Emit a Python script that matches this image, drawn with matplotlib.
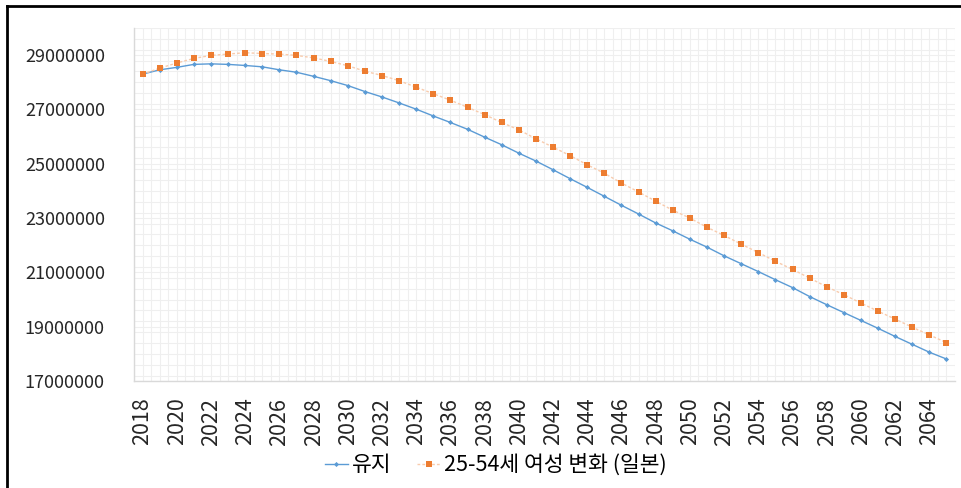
import numpy as np
import matplotlib
matplotlib.use("Agg")
import matplotlib.pyplot as plt
from matplotlib.lines import Line2D
from matplotlib.ticker import MultipleLocator, StrMethodFormatter

plt.rcParams['font.family'] = ['Noto Sans CJK KR', 'DejaVu Sans']

years = list(range(2018, 2066))

# 유지 (millions)
keep = [28.30, 28.46, 28.55, 28.66, 28.68, 28.66, 28.62, 28.57, 28.46, 28.37,
        28.22, 28.06, 27.88, 27.66, 27.46, 27.24, 27.01, 26.76, 26.52, 26.27,
        25.98, 25.70, 25.39, 25.10, 24.78, 24.45, 24.13, 23.80, 23.47, 23.15,
        22.82, 22.53, 22.22, 21.93, 21.61, 21.32, 21.03, 20.73, 20.44, 20.11,
        19.81, 19.52, 19.23, 18.94, 18.64, 18.35, 18.06, 17.81]

# 25-54세 여성 변화 (일본) (millions)
japan = [28.30, 28.52, 28.71, 28.88, 28.99, 29.04, 29.09, 29.06, 29.04, 28.99,
         28.90, 28.77, 28.61, 28.41, 28.25, 28.06, 27.82, 27.58, 27.34, 27.08,
         26.81, 26.52, 26.25, 25.92, 25.61, 25.30, 24.96, 24.65, 24.29, 23.96,
         23.62, 23.29, 23.00, 22.66, 22.36, 22.04, 21.73, 21.41, 21.11, 20.79,
         20.47, 20.18, 19.87, 19.57, 19.28, 18.98, 18.70, 18.41]

labels = ['유지', '25-54세 여성 변화 (일본)']

keep = np.array(keep) * 1e6
japan = np.array(japan) * 1e6

fig = plt.figure(figsize=(9.61, 4.88), dpi=100)
ax = fig.add_axes([134 / 961, 1 - 381 / 488, (955 - 134) / 961, (381 - 28) / 488])

ax.plot(years, keep, color='#5B9BD5', lw=1.0, marker='D', ms=2.6,
        markeredgewidth=0, label=labels[0], zorder=3)
ax.plot(years, japan, color='#F8CBAD', lw=1.0, ls=(0, (2, 1.5)), marker='s',
        ms=3.8, markerfacecolor='#ED7D31', markeredgecolor='#ED7D31',
        markeredgewidth=0, label=labels[1], zorder=3)

ax.set_xlim(2017.5, 2065.5)
ax.set_ylim(17000000, 30000000)
ax.set_xticks(range(2018, 2066, 2))
ax.set_xticklabels([str(y) for y in range(2018, 2066, 2)], rotation=90)
ax.set_yticks(range(17000000, 29000001, 2000000))
ax.yaxis.set_major_formatter(StrMethodFormatter('{x:.0f}'))
ax.xaxis.set_minor_locator(MultipleLocator(0.5))
ax.yaxis.set_minor_locator(MultipleLocator(400000))
ax.grid(which='both', color='#EFEFEF', lw=0.8)
ax.set_axisbelow(True)

ax.tick_params(axis='both', which='both', length=0, colors='#262626')
ax.tick_params(axis='y', labelsize=13, pad=21)
ax.tick_params(axis='x', labelsize=15.5, pad=12)
for side in ['top', 'right']:
    ax.spines[side].set_visible(False)
for side in ['left', 'bottom']:
    ax.spines[side].set_color('#D9D9D9')
    ax.spines[side].set_linewidth(1.0)

fig.legend(loc='center', bbox_to_anchor=(0.5156, 1 - 465 / 488), ncol=2, frameon=False,
           fontsize=15.5, handlelength=1.1, columnspacing=1.2, handletextpad=0.15,
           markerscale=1.0)

# frame on the left and top of the figure
fig.add_artist(Line2D([7 / 961, 7 / 961], [0, 1 - 6 / 488], color='black', lw=2))
fig.add_artist(Line2D([7 / 961, 1], [1 - 6 / 488, 1 - 6 / 488], color='black', lw=2))

fig.savefig('out.png', dpi=100)
